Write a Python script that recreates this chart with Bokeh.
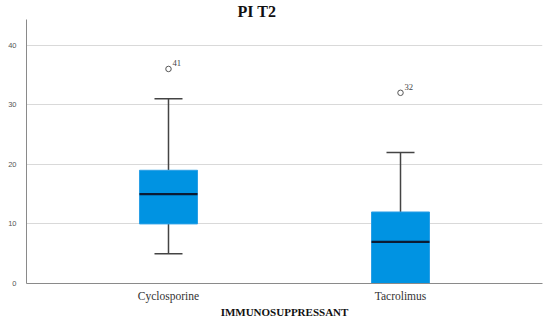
from bokeh.plotting import figure
from bokeh.models import ColumnDataSource, FactorRange, Range1d, Whisker, TeeHead, Title, LabelSet, SingleIntervalTicker
from bokeh.transform import dodge
from bokeh.embed import file_html
from bokeh.resources import INLINE

categories = ["Cyclosporine", "Tacrolimus"]
q1 = [10, 0]
median = [15, 7]
q3 = [19, 12]
lower = [5, 0]
upper = [31, 22]
outlier_cat = ["Cyclosporine", "Tacrolimus"]
outlier_val = [36, 32]
outlier_id = ["41", "32"]

src = ColumnDataSource(dict(cat=categories, q1=q1, median=median, q3=q3, lower=lower, upper=upper))
osrc = ColumnDataSource(dict(cat=outlier_cat, val=outlier_val, lab=outlier_id))

xr = FactorRange(factors=categories, range_padding=0.112, range_padding_units="absolute")
p = figure(width=544, height=320, output_backend="svg", toolbar_location=None,
           x_range=xr, y_range=Range1d(0, 44.3),
           min_border_left=26, min_border_right=2, min_border_top=18, min_border_bottom=36)
p.outline_line_color = None
p.xgrid.grid_line_color = None
p.ygrid.grid_line_color = "#d9d9d9"
p.ygrid.grid_line_width = 1
p.yaxis.ticker = SingleIntervalTicker(interval=10)

# whiskers
p.add_layout(Whisker(base="cat", lower="q3", upper="upper", source=src, dimension="height",
                     line_color="#444444", line_width=1.5,
                     upper_head=TeeHead(size=28, line_color="#444444", line_width=1.5), lower_head=None))
p.add_layout(Whisker(base="cat", lower="lower", upper="q1", source=src, dimension="height",
                     line_color="#444444", line_width=1.5,
                     lower_head=TeeHead(size=28, line_color="#444444", line_width=1.5), upper_head=None))

p.vbar(x="cat", bottom="q1", top="q3", width=0.25, source=src,
       fill_color="#0093E2", line_color="#2A9FE6", line_width=1)
p.segment(x0=dodge("cat", -0.125, range=xr), x1=dodge("cat", 0.125, range=xr),
          y0="median", y1="median", source=src, line_color="#0B1B33", line_width=2.2)

p.scatter(x="cat", y="val", source=osrc, marker="circle", size=5.5,
          fill_color="white", line_color="#555555", line_width=1)
p.add_layout(LabelSet(x="cat", y="val", text="lab", source=osrc, x_offset=4, y_offset=3,
                      text_font="Liberation Sans", text_font_size="6.5pt", text_color="#444444"))

# axes styling
p.yaxis.axis_line_color = "#8a8a8a"
p.yaxis.major_tick_line_color = None
p.yaxis.minor_tick_line_color = None
p.yaxis.major_label_standoff = 4
p.yaxis.major_label_text_font = "Liberation Sans"
p.yaxis.major_label_text_font_size = "7.5px"
p.yaxis.major_label_text_color = "#555555"

p.xaxis.axis_line_color = "#8a8a8a"
p.xaxis.major_tick_line_color = None
p.xaxis.major_tick_out = 0
p.xaxis.major_label_standoff = 6
p.xaxis.major_label_text_font = "Liberation Serif"
p.xaxis.major_label_text_font_size = "11.5px"
p.xaxis.major_label_text_color = "#333333"
p.xaxis.axis_label = "IMMUNOSUPPRESSANT"
p.xaxis.axis_label_text_font = "Liberation Serif"
p.xaxis.axis_label_text_font_style = "bold"
p.xaxis.axis_label_text_font_size = "11px"
p.xaxis.axis_label_text_color = "#111111"
p.xaxis.axis_label_standoff = 1

p.add_layout(Title(text="PI T2", align="left", offset=211, standoff=0,
                   text_font="Liberation Serif", text_font_style="bold", text_font_size="16px",
                   text_color="#111111"), "above")

open("out.html", "w").write(file_html(p, INLINE))
